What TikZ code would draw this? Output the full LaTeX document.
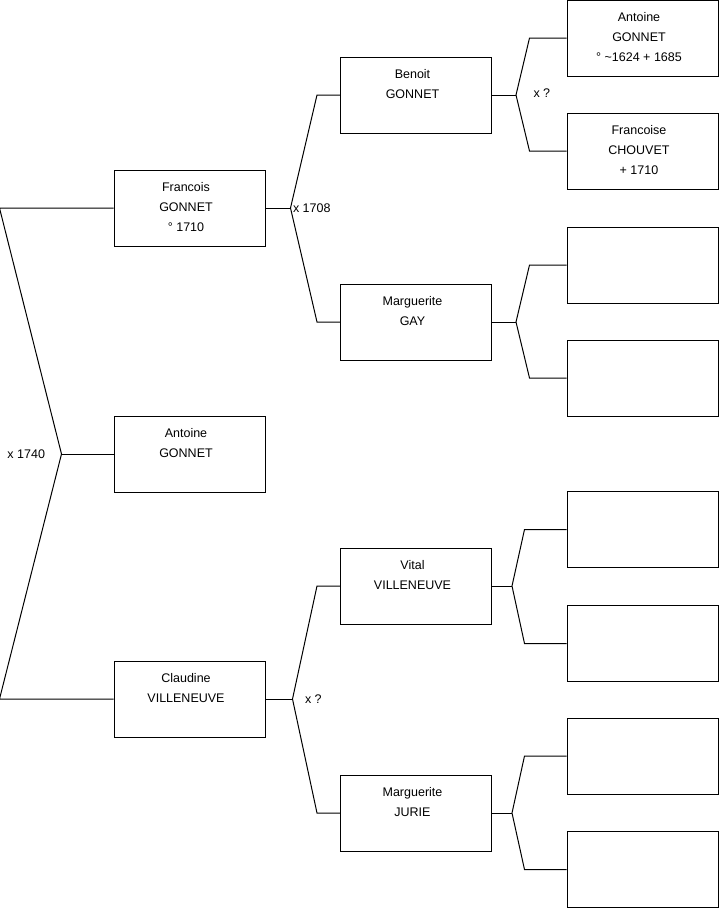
\documentclass[tikz,border=0pt]{standalone}
\usepackage{fontspec}
\setmainfont{Liberation Sans}
\usetikzlibrary{positioning}

\begin{document}
\begin{tikzpicture}[
        x=1pt, y=-1pt,
        line width=1pt,
        font=\fontsize{12.5}{20}\selectfont,
        person/.style={
            draw,
            rectangle,
            minimum width=151pt,
            minimum height=76pt,
            inner sep=0pt
        },
        who/.style={
            anchor=north,
            align=center,
            inner sep=0pt,
            xshift=-3.5pt,
            yshift=-12pt
        },
        wed/.style={inner sep=0pt}
    ]
    \useasboundingbox (0,0) rectangle (719,908);

    % generation 1
    \node[person] (fr) at (189.5,208) {};
    \node[who] at (fr.north) {Francois\\GONNET\\° 1710};
    \node[person] (an) at (189.5,454) {};
    \node[who] at (an.north) {Antoine\\GONNET};
    \node[person] (cl) at (189.5,699) {};
    \node[who] at (cl.north) {Claudine\\VILLENEUVE};

    % generation 2
    \node[person] (be) at (416,95) {};
    \node[who] at (be.north) {Benoit\\GONNET};
    \node[person] (ga) at (416,322) {};
    \node[who] at (ga.north) {Marguerite\\GAY};
    \node[person] (vi) at (416,586) {};
    \node[who] at (vi.north) {Vital\\VILLENEUVE};
    \node[person] (ju) at (416,813) {};
    \node[who] at (ju.north) {Marguerite\\JURIE};

    % generation 3
    \node[person] (p1) at (642.5,38) {};
    \node[who] at (p1.north) {Antoine\\GONNET\\° \textasciitilde1624 + 1685};
    \node[person] (p2) at (642.5,151) {};
    \node[who] at (p2.north) {Francoise\\CHOUVET\\+ 1710};
    \node[person] (p3) at (642.5,265) {};
    \node[person] (p4) at (642.5,378) {};
    \node[person] (p5) at (642.5,529.5) {};
    \node[person] (p6) at (642.5,643.5) {};
    \node[person] (p7) at (642.5,756) {};
    \node[person] (p8) at (642.5,869.5) {};

    % marriage junctions
    \coordinate (m0) at ([xshift=-52pt]an.west);
    \coordinate (m1) at ([xshift=25pt]fr.east);
    \coordinate (m2) at ([xshift=27pt]cl.east);
    \coordinate (m3) at ([xshift=24pt]be.east);
    \coordinate (m4) at ([xshift=24pt]ga.east);
    \coordinate (m5) at ([xshift=20pt]vi.east);
    \coordinate (m6) at ([xshift=20pt]ju.east);

    \draw (fr.west) -- ([xshift=-114pt]fr.west) -- (m0)
        -- ([xshift=-114pt]cl.west) -- (cl.west);
    \draw (m0) -- (an.west);
    \node[wed, left=16pt of m0] {x 1740};

    \draw (fr.east) -- (m1);
    \draw (be.west) -- ([xshift=-23pt]be.west) -- (m1)
        -- ([xshift=-23pt]ga.west) -- (ga.west);
    \node[wed, right=2pt of m1] {x 1708};

    \draw (cl.east) -- (m2);
    \draw (vi.west) -- ([xshift=-23pt]vi.west) -- (m2)
        -- ([xshift=-23pt]ju.west) -- (ju.west);
    \node[wed, right=12pt of m2] {x ?};

    \draw (be.east) -- (m3);
    \draw (p1.west) -- ([xshift=-37pt]p1.west) -- (m3)
        -- ([xshift=-37pt]p2.west) -- (p2.west);
    \node[wed, right=17pt of m3, yshift=2pt] {x ?};

    \draw (ga.east) -- (m4);
    \draw (p3.west) -- ([xshift=-37pt]p3.west) -- (m4)
        -- ([xshift=-37pt]p4.west) -- (p4.west);

    \draw (vi.east) -- (m5);
    \draw (p5.west) -- ([xshift=-42pt]p5.west) -- (m5)
        -- ([xshift=-42pt]p6.west) -- (p6.west);

    \draw (ju.east) -- (m6);
    \draw (p7.west) -- ([xshift=-42pt]p7.west) -- (m6)
        -- ([xshift=-42pt]p8.west) -- (p8.west);
\end{tikzpicture}
\end{document}
